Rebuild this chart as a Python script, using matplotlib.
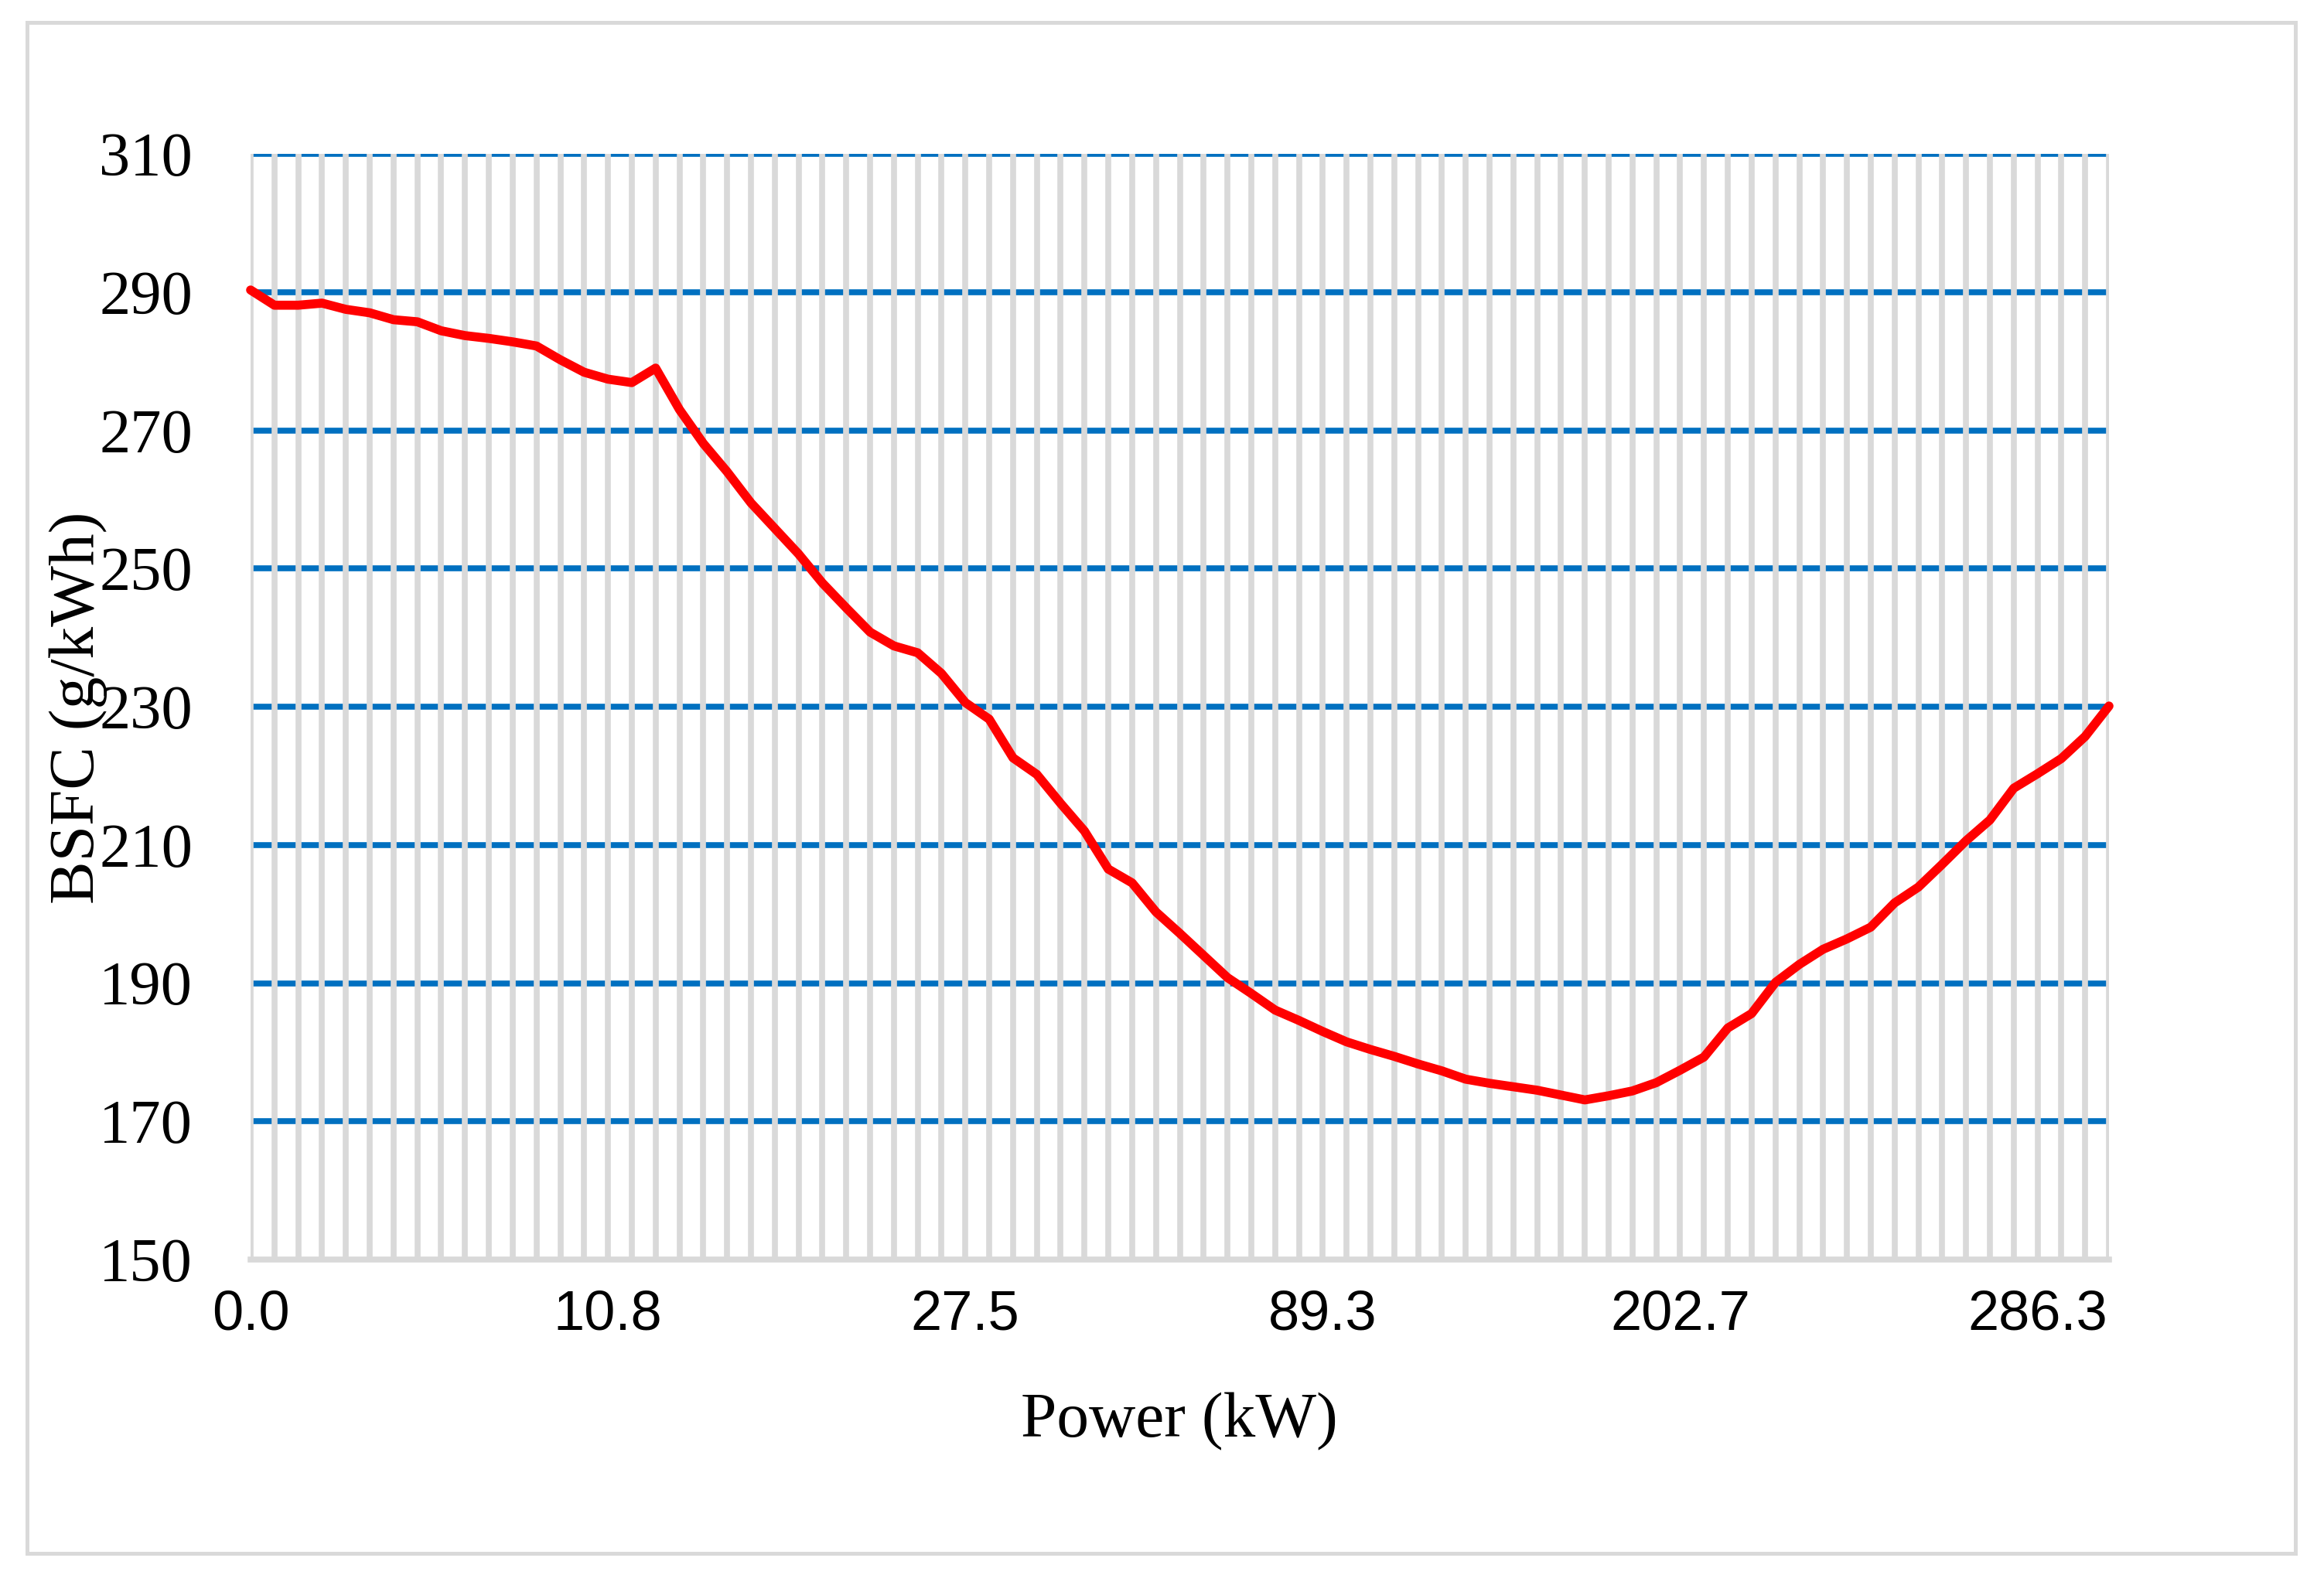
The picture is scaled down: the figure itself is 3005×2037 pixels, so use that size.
import matplotlib
matplotlib.use("Agg")
import matplotlib.pyplot as plt
from matplotlib.patches import Rectangle
import numpy as np

# ---- data ----
bsfc = [290.3, 288.1, 288.1, 288.4, 287.5, 287.0, 286.0, 285.7, 284.4, 283.7,
        283.3, 282.8, 282.2, 280.2, 278.4, 277.4, 276.9, 279.0, 273.0, 268.1,
        264.0, 259.5, 255.8, 252.1, 247.9, 244.3, 240.8, 238.8, 237.8, 234.8,
        230.6, 228.2, 222.6, 220.2, 216.0, 212.0, 206.5, 204.5, 200.3, 197.2,
        194.0, 190.8, 188.5, 186.1, 184.6, 183.0, 181.5, 180.4, 179.4, 178.3,
        177.3, 176.1, 175.5, 175.0, 174.5, 173.8, 173.1, 173.7, 174.4, 175.6,
        177.4, 179.3, 183.5, 185.6, 190.1, 192.7, 194.9, 196.4, 198.1, 201.6,
        203.9, 207.2, 210.6, 213.6, 218.2, 220.3, 222.5, 225.7, 230.1]
x_tick_labels = ["0.0", "10.8", "27.5", "89.3", "202.7", "286.3"]
label_step = 15
y_ticks = [150, 170, 190, 210, 230, 250, 270, 290, 310]

W, H, DPI = 3005, 2037, 200
fig = plt.figure(figsize=(W / DPI, H / DPI), dpi=DPI)
plt.rcParams['font.family'] = ['Liberation Serif', 'DejaVu Serif']

L, R, B, T = 324 / W, 2727 / W, 1 - 1629 / H, 1 - 199 / H
ax = fig.add_axes([L, B, R - L, T - B])

n = len(bsfc)
xi = np.arange(n)

grid_gray = '#d9d9d9'
blue = '#0070C0'

# horizontal value gridlines (blue)
ax.hlines(y_ticks[1:], 0, n - 1, color=blue, lw=2.75, zorder=1)
# vertical category gridlines (gray)
ax.vlines(xi, y_ticks[0], y_ticks[-1], color=grid_gray, lw=2.75, zorder=2)
# data line
ax.plot(xi, bsfc, color='#FF0000', lw=4.2, solid_joinstyle='round',
        solid_capstyle='round', zorder=4, clip_on=False)

ax.set_xlim(0, n - 1)
ax.set_ylim(y_ticks[0], y_ticks[-1])
for s in ['left', 'right', 'top']:
    ax.spines[s].set_visible(False)
ax.spines['bottom'].set_color(grid_gray)
ax.spines['bottom'].set_linewidth(2.75)
ax.spines['bottom'].set_zorder(3)

ax.set_xticks(xi[::label_step][:len(x_tick_labels)])
ax.set_xticklabels(x_tick_labels, fontfamily=['Liberation Sans', 'DejaVu Sans'],
                   fontsize=26)
ax.set_yticks(y_ticks)
ax.set_yticklabels([str(v) for v in y_ticks], fontsize=29)
ax.tick_params(axis='both', length=0, colors='black')
ax.tick_params(axis='y', pad=27)
ax.tick_params(axis='x', pad=14)
ax.set_facecolor('none')

fig.text(0.0338, 0.5506, 'BSFC (g/kWh)', rotation=90, ha='center', va='center',
         fontsize=30)
fig.text(0.5075, 1 - 1858 / H, 'Power (kW)', ha='center', va='baseline',
         fontsize=30)

fig.patches.append(Rectangle((35 / W, 1 - 2009 / H), (2968 - 35) / W, (2009 - 29) / H,
                             transform=fig.transFigure, fill=False,
                             edgecolor=grid_gray, lw=1.8, zorder=0))

fig.savefig('out.png', dpi=DPI, facecolor='white')
